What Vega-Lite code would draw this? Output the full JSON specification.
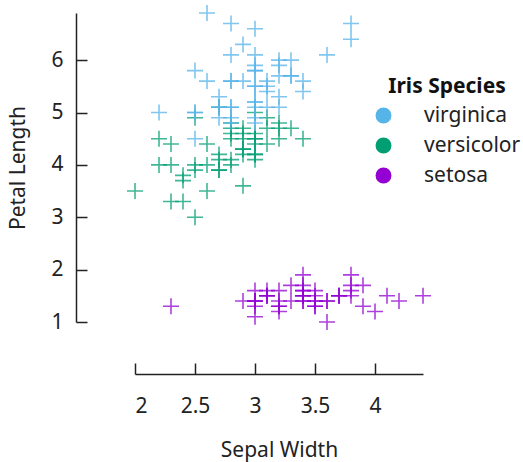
{
  "$schema": "https://vega.github.io/schema/vega-lite/v6.json",
  "autosize": {"type": "none"},
  "padding": {"left": 135, "top": 13, "right": 100, "bottom": 140},
  "width": 288,
  "height": 309,
  "config": {
    "font": "Noto Sans",
    "view": {"stroke": null},
    "axis": {
      "grid": false,
      "domainColor": "#222222",
      "domainWidth": 1.5,
      "tickColor": "#222222",
      "tickWidth": 1.5,
      "tickSize": -11,
      "labelFont": "Noto Sans",
      "labelFontSize": 21,
      "labelColor": "#222222",
      "titleFont": "Noto Sans",
      "titleFontSize": 21,
      "titleFontWeight": "normal",
      "titleColor": "#222222"
    },
    "legend": {
      "titleFont": "Noto Sans",
      "titleFontSize": 21,
      "titleFontWeight": "bold",
      "titleColor": "#111111",
      "labelFont": "Noto Sans",
      "labelFontSize": 21,
      "labelColor": "#222222"
    }
  },
  "data": {
    "values": [
      {"species": "setosa", "sepalWidth": 3.5, "petalLength": 1.4},
      {"species": "setosa", "sepalWidth": 3.0, "petalLength": 1.4},
      {"species": "setosa", "sepalWidth": 3.2, "petalLength": 1.3},
      {"species": "setosa", "sepalWidth": 3.1, "petalLength": 1.5},
      {"species": "setosa", "sepalWidth": 3.6, "petalLength": 1.4},
      {"species": "setosa", "sepalWidth": 3.9, "petalLength": 1.7},
      {"species": "setosa", "sepalWidth": 3.4, "petalLength": 1.4},
      {"species": "setosa", "sepalWidth": 3.4, "petalLength": 1.5},
      {"species": "setosa", "sepalWidth": 2.9, "petalLength": 1.4},
      {"species": "setosa", "sepalWidth": 3.1, "petalLength": 1.5},
      {"species": "setosa", "sepalWidth": 3.7, "petalLength": 1.5},
      {"species": "setosa", "sepalWidth": 3.4, "petalLength": 1.6},
      {"species": "setosa", "sepalWidth": 3.0, "petalLength": 1.4},
      {"species": "setosa", "sepalWidth": 3.0, "petalLength": 1.1},
      {"species": "setosa", "sepalWidth": 4.0, "petalLength": 1.2},
      {"species": "setosa", "sepalWidth": 4.4, "petalLength": 1.5},
      {"species": "setosa", "sepalWidth": 3.9, "petalLength": 1.3},
      {"species": "setosa", "sepalWidth": 3.5, "petalLength": 1.4},
      {"species": "setosa", "sepalWidth": 3.8, "petalLength": 1.7},
      {"species": "setosa", "sepalWidth": 3.8, "petalLength": 1.5},
      {"species": "setosa", "sepalWidth": 3.4, "petalLength": 1.7},
      {"species": "setosa", "sepalWidth": 3.7, "petalLength": 1.5},
      {"species": "setosa", "sepalWidth": 3.6, "petalLength": 1.0},
      {"species": "setosa", "sepalWidth": 3.3, "petalLength": 1.7},
      {"species": "setosa", "sepalWidth": 3.4, "petalLength": 1.9},
      {"species": "setosa", "sepalWidth": 3.0, "petalLength": 1.6},
      {"species": "setosa", "sepalWidth": 3.4, "petalLength": 1.6},
      {"species": "setosa", "sepalWidth": 3.5, "petalLength": 1.5},
      {"species": "setosa", "sepalWidth": 3.4, "petalLength": 1.4},
      {"species": "setosa", "sepalWidth": 3.2, "petalLength": 1.6},
      {"species": "setosa", "sepalWidth": 3.1, "petalLength": 1.6},
      {"species": "setosa", "sepalWidth": 3.4, "petalLength": 1.5},
      {"species": "setosa", "sepalWidth": 4.1, "petalLength": 1.5},
      {"species": "setosa", "sepalWidth": 4.2, "petalLength": 1.4},
      {"species": "setosa", "sepalWidth": 3.1, "petalLength": 1.5},
      {"species": "setosa", "sepalWidth": 3.2, "petalLength": 1.2},
      {"species": "setosa", "sepalWidth": 3.5, "petalLength": 1.3},
      {"species": "setosa", "sepalWidth": 3.6, "petalLength": 1.4},
      {"species": "setosa", "sepalWidth": 3.0, "petalLength": 1.3},
      {"species": "setosa", "sepalWidth": 3.4, "petalLength": 1.5},
      {"species": "setosa", "sepalWidth": 3.5, "petalLength": 1.3},
      {"species": "setosa", "sepalWidth": 2.3, "petalLength": 1.3},
      {"species": "setosa", "sepalWidth": 3.2, "petalLength": 1.3},
      {"species": "setosa", "sepalWidth": 3.5, "petalLength": 1.6},
      {"species": "setosa", "sepalWidth": 3.8, "petalLength": 1.9},
      {"species": "setosa", "sepalWidth": 3.0, "petalLength": 1.4},
      {"species": "setosa", "sepalWidth": 3.8, "petalLength": 1.6},
      {"species": "setosa", "sepalWidth": 3.2, "petalLength": 1.4},
      {"species": "setosa", "sepalWidth": 3.7, "petalLength": 1.5},
      {"species": "setosa", "sepalWidth": 3.3, "petalLength": 1.4},
      {"species": "versicolor", "sepalWidth": 3.2, "petalLength": 4.7},
      {"species": "versicolor", "sepalWidth": 3.2, "petalLength": 4.5},
      {"species": "versicolor", "sepalWidth": 3.1, "petalLength": 4.9},
      {"species": "versicolor", "sepalWidth": 2.3, "petalLength": 4.0},
      {"species": "versicolor", "sepalWidth": 2.8, "petalLength": 4.6},
      {"species": "versicolor", "sepalWidth": 2.8, "petalLength": 4.5},
      {"species": "versicolor", "sepalWidth": 3.3, "petalLength": 4.7},
      {"species": "versicolor", "sepalWidth": 2.4, "petalLength": 3.3},
      {"species": "versicolor", "sepalWidth": 2.9, "petalLength": 4.6},
      {"species": "versicolor", "sepalWidth": 2.7, "petalLength": 3.9},
      {"species": "versicolor", "sepalWidth": 2.0, "petalLength": 3.5},
      {"species": "versicolor", "sepalWidth": 3.0, "petalLength": 4.2},
      {"species": "versicolor", "sepalWidth": 2.2, "petalLength": 4.0},
      {"species": "versicolor", "sepalWidth": 2.9, "petalLength": 4.7},
      {"species": "versicolor", "sepalWidth": 2.9, "petalLength": 3.6},
      {"species": "versicolor", "sepalWidth": 3.1, "petalLength": 4.4},
      {"species": "versicolor", "sepalWidth": 3.0, "petalLength": 4.5},
      {"species": "versicolor", "sepalWidth": 2.7, "petalLength": 4.1},
      {"species": "versicolor", "sepalWidth": 2.2, "petalLength": 4.5},
      {"species": "versicolor", "sepalWidth": 2.5, "petalLength": 3.9},
      {"species": "versicolor", "sepalWidth": 3.2, "petalLength": 4.8},
      {"species": "versicolor", "sepalWidth": 2.8, "petalLength": 4.0},
      {"species": "versicolor", "sepalWidth": 2.5, "petalLength": 4.9},
      {"species": "versicolor", "sepalWidth": 2.8, "petalLength": 4.7},
      {"species": "versicolor", "sepalWidth": 2.9, "petalLength": 4.3},
      {"species": "versicolor", "sepalWidth": 3.0, "petalLength": 4.4},
      {"species": "versicolor", "sepalWidth": 2.8, "petalLength": 4.8},
      {"species": "versicolor", "sepalWidth": 3.0, "petalLength": 5.0},
      {"species": "versicolor", "sepalWidth": 2.9, "petalLength": 4.5},
      {"species": "versicolor", "sepalWidth": 2.6, "petalLength": 3.5},
      {"species": "versicolor", "sepalWidth": 2.4, "petalLength": 3.8},
      {"species": "versicolor", "sepalWidth": 2.4, "petalLength": 3.7},
      {"species": "versicolor", "sepalWidth": 2.7, "petalLength": 3.9},
      {"species": "versicolor", "sepalWidth": 2.7, "petalLength": 5.1},
      {"species": "versicolor", "sepalWidth": 3.0, "petalLength": 4.5},
      {"species": "versicolor", "sepalWidth": 3.4, "petalLength": 4.5},
      {"species": "versicolor", "sepalWidth": 3.1, "petalLength": 4.7},
      {"species": "versicolor", "sepalWidth": 2.3, "petalLength": 4.4},
      {"species": "versicolor", "sepalWidth": 3.0, "petalLength": 4.1},
      {"species": "versicolor", "sepalWidth": 2.5, "petalLength": 4.0},
      {"species": "versicolor", "sepalWidth": 2.6, "petalLength": 4.4},
      {"species": "versicolor", "sepalWidth": 3.0, "petalLength": 4.6},
      {"species": "versicolor", "sepalWidth": 2.6, "petalLength": 4.0},
      {"species": "versicolor", "sepalWidth": 2.3, "petalLength": 3.3},
      {"species": "versicolor", "sepalWidth": 2.7, "petalLength": 4.2},
      {"species": "versicolor", "sepalWidth": 3.0, "petalLength": 4.2},
      {"species": "versicolor", "sepalWidth": 2.9, "petalLength": 4.2},
      {"species": "versicolor", "sepalWidth": 2.9, "petalLength": 4.3},
      {"species": "versicolor", "sepalWidth": 2.5, "petalLength": 3.0},
      {"species": "versicolor", "sepalWidth": 2.8, "petalLength": 4.1},
      {"species": "virginica", "sepalWidth": 3.3, "petalLength": 6.0},
      {"species": "virginica", "sepalWidth": 2.7, "petalLength": 5.1},
      {"species": "virginica", "sepalWidth": 3.0, "petalLength": 5.9},
      {"species": "virginica", "sepalWidth": 2.9, "petalLength": 5.6},
      {"species": "virginica", "sepalWidth": 3.0, "petalLength": 5.8},
      {"species": "virginica", "sepalWidth": 3.0, "petalLength": 6.6},
      {"species": "virginica", "sepalWidth": 2.5, "petalLength": 4.5},
      {"species": "virginica", "sepalWidth": 2.9, "petalLength": 6.3},
      {"species": "virginica", "sepalWidth": 2.5, "petalLength": 5.8},
      {"species": "virginica", "sepalWidth": 3.6, "petalLength": 6.1},
      {"species": "virginica", "sepalWidth": 3.2, "petalLength": 5.1},
      {"species": "virginica", "sepalWidth": 2.7, "petalLength": 5.3},
      {"species": "virginica", "sepalWidth": 3.0, "petalLength": 5.5},
      {"species": "virginica", "sepalWidth": 2.5, "petalLength": 5.0},
      {"species": "virginica", "sepalWidth": 2.8, "petalLength": 5.1},
      {"species": "virginica", "sepalWidth": 3.2, "petalLength": 5.3},
      {"species": "virginica", "sepalWidth": 3.0, "petalLength": 5.5},
      {"species": "virginica", "sepalWidth": 3.8, "petalLength": 6.7},
      {"species": "virginica", "sepalWidth": 2.6, "petalLength": 6.9},
      {"species": "virginica", "sepalWidth": 2.2, "petalLength": 5.0},
      {"species": "virginica", "sepalWidth": 3.2, "petalLength": 5.7},
      {"species": "virginica", "sepalWidth": 2.8, "petalLength": 4.9},
      {"species": "virginica", "sepalWidth": 2.8, "petalLength": 6.7},
      {"species": "virginica", "sepalWidth": 2.7, "petalLength": 4.9},
      {"species": "virginica", "sepalWidth": 3.3, "petalLength": 5.7},
      {"species": "virginica", "sepalWidth": 3.2, "petalLength": 6.0},
      {"species": "virginica", "sepalWidth": 2.8, "petalLength": 4.8},
      {"species": "virginica", "sepalWidth": 3.0, "petalLength": 4.9},
      {"species": "virginica", "sepalWidth": 2.8, "petalLength": 5.6},
      {"species": "virginica", "sepalWidth": 3.0, "petalLength": 5.8},
      {"species": "virginica", "sepalWidth": 2.8, "petalLength": 6.1},
      {"species": "virginica", "sepalWidth": 3.8, "petalLength": 6.4},
      {"species": "virginica", "sepalWidth": 2.8, "petalLength": 5.6},
      {"species": "virginica", "sepalWidth": 2.8, "petalLength": 5.1},
      {"species": "virginica", "sepalWidth": 2.6, "petalLength": 5.6},
      {"species": "virginica", "sepalWidth": 3.0, "petalLength": 6.1},
      {"species": "virginica", "sepalWidth": 3.4, "petalLength": 5.6},
      {"species": "virginica", "sepalWidth": 3.1, "petalLength": 5.5},
      {"species": "virginica", "sepalWidth": 3.0, "petalLength": 4.8},
      {"species": "virginica", "sepalWidth": 3.1, "petalLength": 5.4},
      {"species": "virginica", "sepalWidth": 3.1, "petalLength": 5.6},
      {"species": "virginica", "sepalWidth": 3.1, "petalLength": 5.1},
      {"species": "virginica", "sepalWidth": 2.7, "petalLength": 5.1},
      {"species": "virginica", "sepalWidth": 3.2, "petalLength": 5.9},
      {"species": "virginica", "sepalWidth": 3.3, "petalLength": 5.7},
      {"species": "virginica", "sepalWidth": 3.0, "petalLength": 5.2},
      {"species": "virginica", "sepalWidth": 2.5, "petalLength": 5.0},
      {"species": "virginica", "sepalWidth": 3.0, "petalLength": 5.2},
      {"species": "virginica", "sepalWidth": 3.4, "petalLength": 5.4},
      {"species": "virginica", "sepalWidth": 3.0, "petalLength": 5.1}
    ]
  },
  "mark": {
    "type": "point",
    "shape": "M-1,0H1M0,-1V1",
    "size": 256,
    "strokeWidth": 1.6,
    "opacity": 0.75,
    "filled": true
  },
  "encoding": {
    "x": {
      "field": "sepalWidth",
      "type": "quantitative",
      "title": "Sepal Width",
      "scale": {"domain": [2, 4.4], "nice": false, "zero": false},
      "axis": {"offset": 52, "values": [2, 2.5, 3, 3.5, 4], "format": "~g", "labelPadding": 32, "titlePadding": 23}
    },
    "y": {
      "field": "petalLength",
      "type": "quantitative",
      "title": "Petal Length",
      "scale": {"domain": [1, 6.9], "nice": false, "zero": false},
      "axis": {"offset": 59, "values": [1, 2, 3, 4, 5, 6], "format": "~g", "labelPadding": 24, "titlePadding": 22}
    },
    "color": {
      "field": "species",
      "type": "nominal",
      "title": "Iris Species",
      "scale": {
        "domain": ["virginica", "versicolor", "setosa"],
        "range": ["#56B4E9", "#009E73", "#9400D3"]
      },
      "legend": {
        "orient": "none",
        "legendX": 238,
        "legendY": 63,
        "symbolType": "circle",
        "symbolSize": 254,
        "symbolOpacity": 1,
        "symbolStrokeWidth": 0,
        "labelOffset": 30,
        "rowPadding": 8,
        "titlePadding": 8,
        "titleAnchor": "middle"
      }
    },
    "stroke": {
      "field": "species",
      "type": "nominal",
      "scale": {
        "domain": ["virginica", "versicolor", "setosa"],
        "range": ["#56B4E9", "#009E73", "#9400D3"]
      },
      "legend": null
    }
  }
}
